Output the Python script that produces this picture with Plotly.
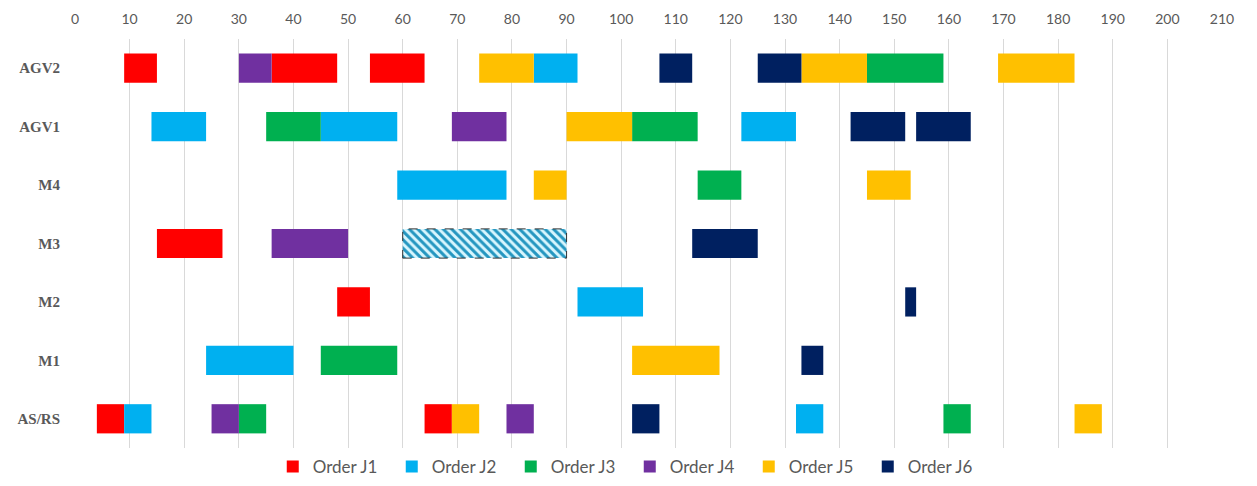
import plotly.graph_objects as go

# ---------------- data ----------------
machines = ["AGV2", "AGV1", "M4", "M3", "M2", "M1", "AS/RS"]
x_ticks = list(range(0, 220, 10))

order_names = ["Order J1", "Order J2", "Order J3", "Order J4", "Order J5", "Order J6"]
order_colors = ["#FF0000", "#00B0F0", "#00B050", "#7030A0", "#FFC000", "#002060"]

j1_rows = ["AGV2", "AGV2", "AGV2", "M3", "M2", "AS/RS", "AS/RS"]
j1_start = [9, 36, 54, 15, 48, 4, 64]
j1_end = [15, 48, 64, 27, 54, 9, 69]

j2_rows = ["AGV2", "AGV1", "AGV1", "AGV1", "M4", "M2", "M1", "AS/RS", "AS/RS"]
j2_start = [84, 14, 45, 122, 59, 92, 24, 9, 132]
j2_end = [92, 24, 59, 132, 79, 104, 40, 14, 137]

j3_rows = ["AGV2", "AGV1", "AGV1", "M4", "M1", "AS/RS", "AS/RS"]
j3_start = [145, 35, 102, 114, 45, 30, 159]
j3_end = [159, 45, 114, 122, 59, 35, 164]

j4_rows = ["AGV2", "AGV1", "M3", "AS/RS", "AS/RS"]
j4_start = [30, 69, 36, 25, 79]
j4_end = [36, 79, 50, 30, 84]

j5_rows = ["AGV2", "AGV2", "AGV2", "AGV1", "M4", "M4", "M1", "AS/RS", "AS/RS"]
j5_start = [74, 133, 169, 90, 84, 145, 102, 69, 183]
j5_end = [84, 145, 183, 102, 90, 153, 118, 74, 188]

j6_rows = ["AGV2", "AGV2", "AGV1", "AGV1", "M3", "M2", "M1", "AS/RS"]
j6_start = [107, 125, 142, 154, 113, 152, 133, 102]
j6_end = [113, 133, 152, 164, 125, 154, 137, 107]

# hatched (idle / blocked) slot
hatch_rows = ["M3"]
hatch_start = [60]
hatch_end = [90]

orders = [
    (j1_rows, j1_start, j1_end),
    (j2_rows, j2_start, j2_end),
    (j3_rows, j3_start, j3_end),
    (j4_rows, j4_start, j4_end),
    (j5_rows, j5_start, j5_end),
    (j6_rows, j6_start, j6_end),
]

# ---------------- figure ----------------
BAR_W = 0.5
cat_order = list(reversed(machines))

fig = go.Figure()

# hatched bar
fig.add_trace(go.Bar(
    y=hatch_rows,
    base=hatch_start,
    x=[e - s for s, e in zip(hatch_start, hatch_end)],
    orientation="h",
    width=BAR_W,
    marker=dict(
        color="#D8F6FE",
        line=dict(width=0),
        pattern=dict(shape="\\", fgcolor="#2496C0", bgcolor="#D8F6FE",
                     fgopacity=1, size=6, solidity=0.5),
    ),
    showlegend=False,
    hoverinfo="skip",
))

for name, color, (rows, st, en) in zip(order_names, order_colors, orders):
    fig.add_trace(go.Bar(
        y=rows,
        base=st,
        x=[e - s for s, e in zip(st, en)],
        orientation="h",
        width=BAR_W,
        name=name,
        marker=dict(color=color, line=dict(width=0)),
    ))

# dashed outline around hatched slot
for r, s, e in zip(hatch_rows, hatch_start, hatch_end):
    idx = cat_order.index(r)
    fig.add_shape(type="rect", xref="x", yref="y",
                  x0=s, x1=e, y0=idx - BAR_W / 2, y1=idx + BAR_W / 2,
                  line=dict(color="#333333", width=1, dash="dash"),
                  fillcolor="rgba(0,0,0,0)")

fig.update_layout(
    width=1257, height=486,
    margin=dict(l=75, r=35, t=39, b=38),
    paper_bgcolor="white",
    plot_bgcolor="white",
    barmode="overlay",
    bargap=0.5,
    font=dict(family="Lato, 'Open Sans', sans-serif", color="#595959"),
    xaxis=dict(
        side="top",
        range=[0, 210],
        tickvals=x_ticks,
        ticktext=[str(v) for v in x_ticks],
        showgrid=True,
        gridcolor="#D9D9D9",
        gridwidth=1,
        zeroline=False,
        showline=False,
        ticks="",
        ticklabelstandoff=11,
        tickfont=dict(family="Lato, sans-serif", size=14, color="#595959"),
        fixedrange=True,
        automargin=False,
    ),
    yaxis=dict(
        type="category",
        categoryorder="array",
        categoryarray=cat_order,
        range=[-0.5, 6.5],
        showgrid=False,
        zeroline=False,
        showline=False,
        ticks="",
        ticklabelstandoff=14,
        tickfont=dict(family="'Liberation Serif', 'DejaVu Serif', serif", size=15,
                      color="#595959", weight="bold"),
        fixedrange=True,
        automargin=False,
    ),
    legend=dict(
        orientation="h",
        xref="container", yref="container",
        x=0.501, xanchor="center",
        y=0.039, yanchor="middle",
        font=dict(family="Lato, sans-serif", size=17, color="#595959"),
        entrywidth=74, entrywidthmode="pixels",
        traceorder="normal",
    ),
)

fig.write_html("out.html")
